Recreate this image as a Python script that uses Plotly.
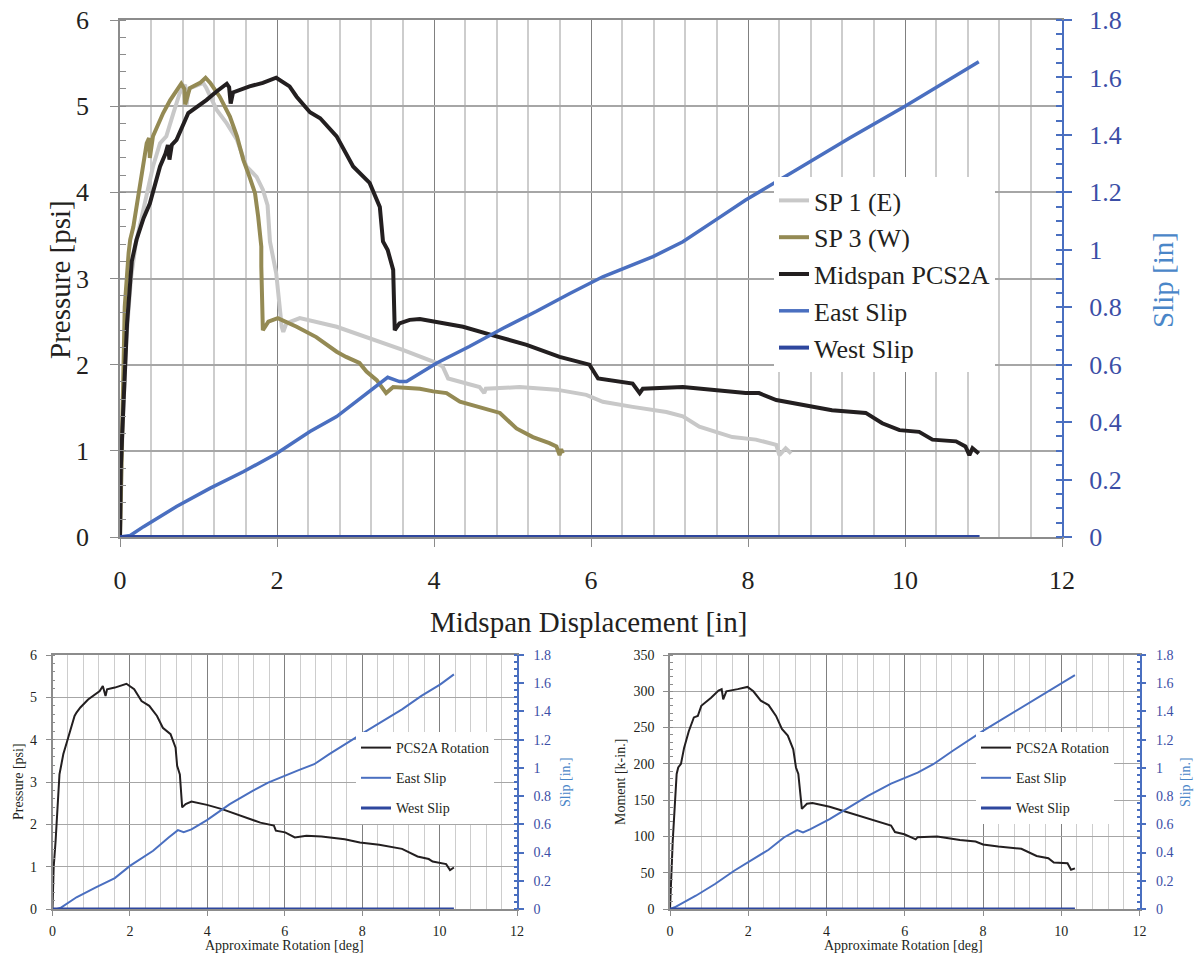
import plotly.graph_objects as go

SERIF = "Liberation Serif"
INK = "#231f20"
BLUE_TICK = "#3b4ea6"
BLUE_TITLE = "#4a86c8"
C_SP1 = "#c8c8c8"
C_SP3 = "#948a54"
C_MID = "#231f20"
C_EAST = "#4a6fc0"
C_WEST = "#2e479e"

# ---------------- main panel data (Midspan displacement [in]) ----------------
disp_mid = [0, 0.01, 0.04, 0.09, 0.15, 0.21, 0.3, 0.38, 0.51, 0.58, 0.61, 0.63, 0.66, 0.72, 0.87,
            1.1, 1.23, 1.36, 1.39, 1.41, 1.44, 1.65, 1.82, 1.99, 2.16, 2.25, 2.42, 2.55, 2.76,
            2.97, 3.18, 3.31, 3.35, 3.41, 3.48, 3.5, 3.56, 3.69, 3.82, 4.03, 4.37, 4.75, 5.18,
            5.6, 5.98, 6.09, 6.53, 6.62, 6.66, 7.17, 7.97, 8.14, 8.36, 9.07, 9.5, 9.71, 9.93,
            10.18, 10.35, 10.65, 10.77, 10.82, 10.86, 10.94]
p_mid = [0, 0.8, 1.45, 2.48, 3.2, 3.45, 3.7, 3.87, 4.3, 4.45, 4.55, 4.38, 4.55, 4.61, 4.92,
         5.07, 5.17, 5.26, 5.22, 5.03, 5.16, 5.23, 5.27, 5.33, 5.23, 5.11, 4.93, 4.86, 4.65,
         4.3, 4.11, 3.83, 3.43, 3.33, 3.1, 2.4, 2.48, 2.52, 2.53, 2.5, 2.44, 2.34, 2.23,
         2.09, 2.0, 1.84, 1.78, 1.67, 1.72, 1.74, 1.67, 1.67, 1.59, 1.47, 1.44, 1.32, 1.24,
         1.22, 1.13, 1.11, 1.05, 0.95, 1.03, 0.97]

disp_sp3 = [0, 0.02, 0.03, 0.06, 0.11, 0.13, 0.17, 0.25, 0.3, 0.34, 0.37, 0.38, 0.42, 0.55,
            0.64, 0.72, 0.78, 0.82, 0.83, 0.89, 1.02, 1.09, 1.15, 1.27, 1.4, 1.49, 1.57, 1.65,
            1.72, 1.76, 1.8, 1.8, 1.82, 1.89, 2.01, 2.25, 2.5, 2.76, 2.88, 3.05, 3.14, 3.27,
            3.39, 3.48, 3.61, 3.82, 3.99, 4.16, 4.33, 4.62, 4.84, 5.05, 5.26, 5.47, 5.56,
            5.6, 5.62, 5.64]
p_sp3 = [0, 1.0, 1.78, 2.67, 3.3, 3.45, 3.6, 4.07, 4.41, 4.57, 4.63, 4.4, 4.65, 4.92,
         5.07, 5.19, 5.26, 5.2, 5.02, 5.21, 5.27, 5.33, 5.27, 5.11, 4.88, 4.65, 4.38, 4.18,
         3.99, 3.72, 3.37, 3.14, 2.4, 2.5, 2.54, 2.44, 2.32, 2.15, 2.09, 2.02, 1.92, 1.82,
         1.67, 1.74, 1.73, 1.72, 1.69, 1.67, 1.57, 1.49, 1.44, 1.26, 1.16, 1.09, 1.05,
         0.95, 1.02, 0.97]

disp_sp1 = [0, 0.03, 0.08, 0.14, 0.2, 0.3, 0.42, 0.51, 0.59, 0.68, 0.76, 0.83, 0.85, 0.87,
            1.06, 1.1, 1.19, 1.23, 1.36, 1.49, 1.61, 1.74, 1.82, 1.88, 1.91, 1.99, 2.06,
            2.08, 2.12, 2.29, 2.76, 3.22, 3.61, 4.03, 4.11, 4.18, 4.58, 4.64, 4.66, 5.09,
            5.56, 5.94, 6.15, 6.53, 6.96, 7.17, 7.38, 7.8, 8.1, 8.36, 8.4, 8.48, 8.55]
p_sp1 = [0, 1.2, 2.3, 3.0, 3.4, 3.79, 4.3, 4.57, 4.65, 4.92, 5.15, 5.25, 5.02, 5.2,
         5.27, 5.21, 5.03, 4.96, 4.8, 4.61, 4.3, 4.18, 4.03, 3.85, 3.43, 3.06, 2.44,
         2.38, 2.48, 2.54, 2.44, 2.3, 2.17, 2.02, 1.98, 1.84, 1.74, 1.67, 1.72, 1.74,
         1.71, 1.65, 1.57, 1.51, 1.45, 1.4, 1.28, 1.16, 1.13, 1.07, 0.95, 1.03, 0.97]

disp_east = [0, 0.13, 0.3, 0.72, 1.15, 1.57, 1.99, 2.42, 2.76, 3.14, 3.41, 3.56, 3.65, 4.03,
             4.45, 4.88, 5.3, 5.73, 6.15, 6.79, 7.17, 7.59, 7.97, 8.65, 9.3, 10.0, 10.94]
slip_east = [0, 0.005, 0.036, 0.106, 0.17, 0.227, 0.29, 0.367, 0.419, 0.5, 0.556, 0.541, 0.541,
             0.605, 0.663, 0.727, 0.785, 0.848, 0.906, 0.976, 1.028, 1.104, 1.173, 1.284,
             1.39, 1.50, 1.655]

disp_west = [0, 2, 4, 6, 8, 10, 10.95]
slip_west = [0, 0, 0, 0, 0, 0, 0]

# ---------------- bottom-left data (rotation [deg], pressure [psi]) ----------------
rot_p = [0, 0.03, 0.08, 0.13, 0.18, 0.23, 0.28, 0.38, 0.47, 0.57, 0.62, 0.72, 0.92, 1.22,
         1.3, 1.37, 1.41, 1.61, 1.91, 2.11, 2.3, 2.5, 2.7, 2.85, 3.05, 3.18, 3.22, 3.29,
         3.35, 3.44, 3.59, 3.99, 4.38, 4.88, 5.37, 5.72, 5.77, 6.01, 6.26, 6.56, 6.95,
         7.55, 7.94, 8.44, 9.03, 9.43, 9.72, 9.82, 10.17, 10.27, 10.37]
pres_rot = [0, 0.98, 1.61, 2.32, 3.18, 3.42, 3.66, 3.97, 4.28, 4.56, 4.64, 4.76, 4.95, 5.15,
            5.27, 5.03, 5.19, 5.23, 5.32, 5.19, 4.91, 4.8, 4.56, 4.28, 4.13, 3.81, 3.38, 3.18,
            2.4, 2.48, 2.54, 2.46, 2.36, 2.2, 2.04, 1.97, 1.85, 1.81, 1.69, 1.73, 1.71,
            1.65, 1.57, 1.52, 1.42, 1.24, 1.18, 1.12, 1.06, 0.92, 0.98]

rot_east_l = [0, 0.12, 0.23, 0.62, 1.12, 1.61, 2.01, 2.6, 3.0, 3.24, 3.39, 3.59, 3.99, 4.58,
              5.17, 5.57, 6.36, 6.76, 7.15, 7.55, 8.04, 8.54, 9.03, 9.53, 10.02, 10.37]
slip_east_l = [0, 0.0, 0.012, 0.083, 0.153, 0.219, 0.307, 0.413, 0.507, 0.559, 0.545, 0.564,
               0.63, 0.743, 0.837, 0.896, 0.984, 1.026, 1.097, 1.168, 1.25, 1.333, 1.415,
               1.51, 1.592, 1.663]

rot_west_l = [0, 2, 4, 6, 8, 10, 10.37]
slip_west_l = [0, 0, 0, 0, 0, 0, 0]

# ---------------- bottom-right data (rotation [deg], moment [k-in.]) ----------------
rot_m = [0, 0.03, 0.07, 0.12, 0.17, 0.21, 0.28, 0.36, 0.48, 0.61, 0.71, 0.8, 1.05, 1.24,
         1.32, 1.36, 1.44, 1.73, 1.98, 2.13, 2.32, 2.52, 2.71, 2.86, 3.01, 3.15, 3.22, 3.28,
         3.37, 3.5, 3.64, 4.08, 4.57, 5.06, 5.65, 5.75, 5.99, 6.28, 6.33, 6.83, 7.41, 7.81,
         8.0, 8.39, 8.98, 9.37, 9.67, 9.81, 10.16, 10.25, 10.35]
moment = [0, 48, 94, 140, 186, 195, 200, 222, 245, 264, 266, 280, 291, 301,
          303, 289, 300, 303, 306, 300, 287, 281, 266, 248, 239, 220, 195, 186,
          138, 145, 146, 141, 133, 124, 115, 106, 103, 96, 99, 100, 95, 93,
          89, 86, 83, 73, 70, 64, 63, 54, 56]

rot_east_r = [0, 0.12, 0.66, 1.15, 1.64, 2.13, 2.52, 2.91, 3.25, 3.4, 3.59, 4.08, 4.57, 5.06,
              5.65, 6.33, 6.73, 7.22, 8.0, 8.49, 8.98, 9.47, 9.96, 10.35]
slip_east_r = [0, 0.012, 0.094, 0.177, 0.271, 0.354, 0.42, 0.507, 0.559, 0.543, 0.566, 0.637,
               0.72, 0.802, 0.889, 0.967, 1.026, 1.12, 1.262, 1.345, 1.427, 1.51, 1.592, 1.658]

rot_west_r = [0, 2, 4, 6, 8, 10, 10.35]
slip_west_r = [0, 0, 0, 0, 0, 0, 0]

fig = go.Figure()

# main panel traces
fig.add_trace(go.Scatter(x=disp_sp1, y=p_sp1, name="SP 1 (E)", mode="lines",
                         line=dict(color=C_SP1, width=4), xaxis="x", yaxis="y"))
fig.add_trace(go.Scatter(x=disp_sp3, y=p_sp3, name="SP 3 (W)", mode="lines",
                         line=dict(color=C_SP3, width=4), xaxis="x", yaxis="y"))
fig.add_trace(go.Scatter(x=disp_mid, y=p_mid, name="Midspan PCS2A", mode="lines",
                         line=dict(color=C_MID, width=4), xaxis="x", yaxis="y"))
fig.add_trace(go.Scatter(x=disp_east, y=slip_east, name="East Slip", mode="lines",
                         line=dict(color=C_EAST, width=3.5), xaxis="x", yaxis="y2"))
fig.add_trace(go.Scatter(x=disp_west, y=slip_west, name="West Slip", mode="lines",
                         line=dict(color=C_WEST, width=4), xaxis="x", yaxis="y2"))

# bottom-left traces
fig.add_trace(go.Scatter(x=rot_p, y=pres_rot, name="PCS2A Rotation", mode="lines",
                         line=dict(color=C_MID, width=2), xaxis="x2", yaxis="y3",
                         legend="legend2", legendgroup="a"))
fig.add_trace(go.Scatter(x=rot_east_l, y=slip_east_l, name="East Slip", mode="lines",
                         line=dict(color=C_EAST, width=2), xaxis="x2", yaxis="y4",
                         legend="legend2", legendgroup="b"))
fig.add_trace(go.Scatter(x=rot_west_l, y=slip_west_l, name="West Slip", mode="lines",
                         line=dict(color=C_WEST, width=3), xaxis="x2", yaxis="y4",
                         legend="legend2", legendgroup="c"))

# bottom-right traces
fig.add_trace(go.Scatter(x=rot_m, y=moment, name="PCS2A Rotation", mode="lines",
                         line=dict(color=C_MID, width=2), xaxis="x3", yaxis="y5",
                         legend="legend3", legendgroup="d"))
fig.add_trace(go.Scatter(x=rot_east_r, y=slip_east_r, name="East Slip", mode="lines",
                         line=dict(color=C_EAST, width=2), xaxis="x3", yaxis="y6",
                         legend="legend3", legendgroup="e"))
fig.add_trace(go.Scatter(x=rot_west_r, y=slip_west_r, name="West Slip", mode="lines",
                         line=dict(color=C_WEST, width=3), xaxis="x3", yaxis="y6",
                         legend="legend3", legendgroup="f"))

W, H = 1194, 958


def px_x(p):
    return p / W


def px_y(p):
    return (H - p) / H


def xax(domain, anchor, fs, tlen, stand, lw):
    return dict(domain=domain, anchor=anchor, range=[0, 12], tick0=0, dtick=2,
                automargin=False,
                showgrid=True, gridcolor="#808080", gridwidth=1.2,
                minor=dict(dtick=0.4, showgrid=True, gridcolor="#cdcdcd", gridwidth=lw),
                showline=True, linecolor="#8c8c8c", linewidth=1.5, mirror=True,
                ticks="outside", ticklen=tlen, tickcolor="#8c8c8c", tickwidth=1.2,
                tickfont=dict(family=SERIF, size=fs, color=INK),
                ticklabelstandoff=stand, zeroline=False)


def yax_left(domain, anchor, rng, dt, mdt, fs, tlen, stand, gw):
    return dict(domain=domain, anchor=anchor, range=rng, dtick=dt, tick0=0,
                automargin=False,
                showgrid=True, gridcolor="#a6a6a6", gridwidth=gw,
                showline=True, linecolor="#8c8c8c", linewidth=1.5,
                ticks="outside", ticklen=tlen, tickcolor="#8c8c8c", tickwidth=1.2,
                minor=dict(dtick=mdt, ticks="inside", ticklen=max(tlen - 2, 3),
                           tickcolor="#8c8c8c", showgrid=False),
                tickfont=dict(family=SERIF, size=fs, color=INK),
                ticklabelstandoff=stand, zeroline=False)


def yax_right(overlay, anchor, fs, tlen, stand, lw):
    return dict(overlaying=overlay, anchor=anchor, side="right", range=[0, 1.8],
                dtick=0.2, tick0=0, showgrid=False, automargin=False,
                showline=True, linecolor=C_EAST, linewidth=lw,
                ticks="outside", ticklen=tlen, tickcolor=C_EAST, tickwidth=1.5,
                minor=dict(dtick=0.05, ticks="inside", ticklen=max(tlen - 2, 3),
                           tickcolor=C_EAST, showgrid=False),
                tickfont=dict(family=SERIF, size=fs, color=BLUE_TICK),
                ticklabelstandoff=stand, zeroline=False)


main_x = [px_x(120), px_x(1062)]
main_y = [px_y(537), px_y(20)]
bl_x = [px_x(52.5), px_x(517)]
br_x = [px_x(670), px_x(1139.5)]
bot_y = [px_y(909), px_y(655)]

fig.update_layout(
    width=W, height=H,
    margin=dict(l=0, r=0, t=0, b=0, pad=0, autoexpand=False),
    paper_bgcolor="white", plot_bgcolor="white",
    font=dict(family=SERIF, color=INK),
    xaxis=xax(main_x, "y", 26, 8, 11, 1.5),
    yaxis=yax_left(main_y, "x", [0, 6], 1, 0.2, 26, 8, 16, 1.5),
    yaxis2=yax_right("y", "x", 26, 8, 12, 2),
    xaxis2=xax(bl_x, "y3", 14, 5, 3, 1),
    yaxis3=yax_left(bot_y, "x2", [0, 6], 1, 0.2, 14, 5, 6, 1),
    yaxis4=yax_right("y3", "x2", 14, 5, 7, 1.5),
    xaxis3=xax(br_x, "y5", 14, 5, 3, 1),
    yaxis5=yax_left(bot_y, "x3", [0, 350], 50, 10, 14, 5, 6, 1),
    yaxis6=yax_right("y5", "x3", 14, 5, 7, 1.5),
    legend=dict(x=px_x(774), y=px_y(177), xanchor="left", yanchor="top",
                bgcolor="white", borderwidth=0,
                font=dict(family=SERIF, size=26, color=INK)),
    legend2=dict(x=px_x(356), y=px_y(732), xanchor="left", yanchor="top",
                 bgcolor="white", borderwidth=0, tracegroupgap=9,
                 font=dict(family=SERIF, size=14, color=INK)),
    legend3=dict(x=px_x(976), y=px_y(732), xanchor="left", yanchor="top",
                 bgcolor="white", borderwidth=0, tracegroupgap=9,
                 font=dict(family=SERIF, size=14, color=INK)),
    showlegend=True,
)

annos = [
    dict(text="Midspan Displacement [in]", x=px_x(588), y=px_y(622), size=29, color=INK, angle=0),
    dict(text="Pressure [psi]", x=px_x(60), y=px_y(280), size=29, color=INK, angle=-90),
    dict(text="Slip [in]", x=px_x(1163), y=px_y(280), size=29, color=BLUE_TITLE, angle=-90),
    dict(text="Approximate Rotation [deg]", x=px_x(284), y=px_y(945), size=14, color=INK, angle=0),
    dict(text="Pressure [psi]", x=px_x(18), y=px_y(782), size=14, color=INK, angle=-90),
    dict(text="Slip [in.]", x=px_x(565), y=px_y(782), size=14, color=BLUE_TITLE, angle=-90),
    dict(text="Approximate Rotation [deg]", x=px_x(903), y=px_y(945), size=14, color=INK, angle=0),
    dict(text="Moment [k-in.]", x=px_x(620), y=px_y(782), size=14, color=INK, angle=-90),
    dict(text="Slip [in.]", x=px_x(1185), y=px_y(782), size=14, color=BLUE_TITLE, angle=-90),
]
for a in annos:
    fig.add_annotation(text=a["text"], x=a["x"], y=a["y"], xref="paper", yref="paper",
                       xanchor="center", yanchor="middle", showarrow=False,
                       textangle=a["angle"],
                       font=dict(family=SERIF, size=a["size"], color=a["color"]))

fig.write_html("out.html", config={"displayModeBar": False},
               post_script="document.body.style.margin='0';document.body.style.overflow='hidden';")
